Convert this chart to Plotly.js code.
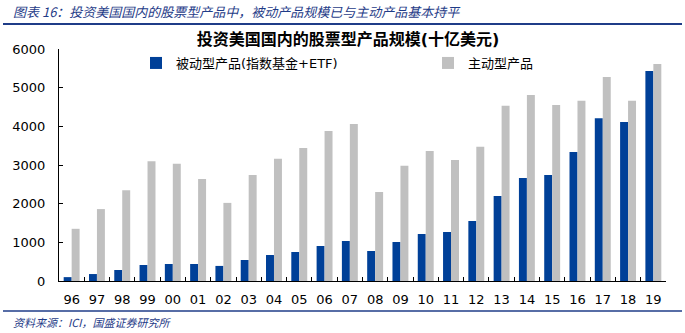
<!DOCTYPE html>
<html>
<head>
<meta charset="utf-8">
<script src="https://cdn.plot.ly/plotly-3.0.1.min.js"></script>
<style>html,body{margin:0;padding:0;background:#fff;}#chart{width:685px;height:333px;}</style>
</head>
<body>
<div id="chart"></div>
<script>
const years = ['96','97','98','99','00','01','02','03','04','05','06','07','08','09','10','11','12','13','14','15','16','17','18','19'];
const passive = [100,180,285,414,440,440,390,543,672,750,905,1034,776,1008,1215,1267,1552,2198,2664,2741,3336,4210,4110,5430];
const active = [1350,1860,2350,3100,3030,2640,2020,2740,3160,3440,3880,4060,2300,2980,3360,3130,3470,4530,4810,4550,4660,5275,4660,5610];
const passiveName = '被动型产品(指数基金+ETF)';
const activeName = '主动型产品';
const chartTitle = '投资美国国内的股票型产品规模(十亿美元)';
const headerText = '图表 16：投资美国国内的股票型产品中，被动产品规模已与主动产品基本持平';
const sourceText = '资料来源：ICI，国盛证券研究所';

const cjk = '"DejaVu Sans", "Noto Sans CJK SC", sans-serif';
const navy = '#1F3C88';

const L = 59, R = 666, T = 49, B = 281, W = 685, H = 333;
const px = x => (x - L) / (R - L);
const py = y => (B - y) / (B - T);

const traces = [
  {type:'bar', x: years, y: passive, name: passiveName, marker:{color:'#004098'}, legend: 'legend'},
  {type:'bar', x: years, y: active, name: activeName, marker:{color:'#C0C0C0'}, legend: 'legend2'}
];

const legendBase = {orientation: 'h', xanchor: 'left', yanchor: 'middle',
  font: {family: cjk, size: 13, color: '#000'}, bgcolor: 'rgba(0,0,0,0)', borderwidth: 0};

const layout = {
  width: W, height: H,
  margin: {l: L, r: W - R, t: T, b: H - B, pad: 0},
  paper_bgcolor: '#fff', plot_bgcolor: '#fff',
  barmode: 'group', bargap: 0.37, bargroupgap: 0,
  font: {family: cjk, size: 13, color: '#000'},
  title: {text: '<b>' + chartTitle + '</b>', font: {family: cjk, size: 16, color: '#000'},
          x: 348 / W, xanchor: 'center', y: 1 - 39 / H, yanchor: 'middle'},
  showlegend: true,
  legend: Object.assign({}, legendBase, {x: px(136), y: py(63)}),
  legend2: Object.assign({}, legendBase, {x: px(428), y: py(63)}),
  xaxis: {type: 'category', showline: true, linecolor: '#000', linewidth: 1,
          ticks: 'inside', ticklen: 4, tickcolor: '#000', tickson: 'boundaries',
          showgrid: false, zeroline: false, tickangle: 0, tickfont: {family: cjk, size: 13, color: '#000'},
          ticklabelstandoff: 6, fixedrange: true},
  yaxis: {range: [0, 6000], dtick: 1000, showline: true, linecolor: '#000', linewidth: 1,
          ticks: 'inside', ticklen: 4, tickcolor: '#000', showgrid: false, zeroline: false,
          tickfont: {family: cjk, size: 13, color: '#000'}, ticklabelstandoff: 10, fixedrange: true},
  shapes: [
    {type: 'line', xref: 'paper', yref: 'paper', x0: px(3), x1: px(682), y0: py(24), y1: py(24), line: {color: navy, width: 2}},
    {type: 'line', xref: 'paper', yref: 'paper', x0: px(3), x1: px(682), y0: py(311), y1: py(311), line: {color: navy, width: 1.5}}
  ],
  annotations: [
    {text: '<i>' + headerText + '</i>', xref: 'paper', yref: 'paper', x: px(11), y: py(12), xanchor: 'left', yanchor: 'middle',
     showarrow: false, font: {family: '"Noto Sans CJK SC", sans-serif', size: 13, color: navy}},
    {text: '<i>' + sourceText + '</i>', xref: 'paper', yref: 'paper', x: px(11), y: py(322), xanchor: 'left', yanchor: 'middle',
     showarrow: false, font: {family: '"Noto Sans CJK SC", sans-serif', size: 11, color: navy}}
  ]
};

Plotly.newPlot('chart', traces, layout, {displayModeBar: false, staticPlot: true});
</script>
</body>
</html>
